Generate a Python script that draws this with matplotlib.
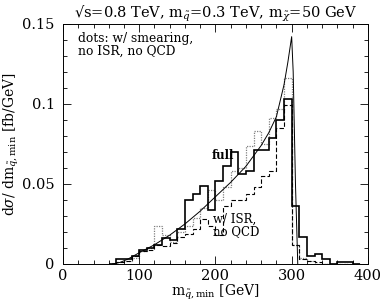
import numpy as np
import matplotlib
matplotlib.use("Agg")
import matplotlib.pyplot as plt
from matplotlib.ticker import MultipleLocator

plt.rcParams['font.family'] = 'DejaVu Serif'
plt.rcParams['mathtext.fontset'] = 'dejavuserif'

# bin edges of the histograms [GeV]
edges = np.arange(60, 400, 10)

# full simulation (solid)
full = [0.000, 0.003, 0.003, 0.005, 0.009, 0.010, 0.012, 0.016, 0.015, 0.022,
        0.040, 0.044, 0.049, 0.034, 0.052, 0.061, 0.070, 0.056, 0.058, 0.071,
        0.071, 0.079, 0.090, 0.103, 0.036, 0.017, 0.005, 0.006, 0.003, 0.000,
        0.001, 0.001, 0.000]

# w/ smearing, no ISR, no QCD (dotted)
smear = [0.000, 0.001, 0.002, 0.004, 0.008, 0.010, 0.024, 0.018, 0.014, 0.020,
         0.024, 0.029, 0.035, 0.046, 0.040, 0.048, 0.058, 0.060, 0.074, 0.083,
         0.075, 0.091, 0.097, 0.116, 0.012, 0.004, 0.002, 0.000, 0.000, 0.000,
         0.000, 0.000, 0.000]

# w/ ISR, no QCD (dashed)
isr = [0.000, 0.001, 0.002, 0.005, 0.008, 0.009, 0.012, 0.011, 0.013, 0.017,
       0.019, 0.022, 0.028, 0.024, 0.018, 0.036, 0.040, 0.040, 0.044, 0.048,
       0.055, 0.058, 0.085, 0.099, 0.012, 0.003, 0.002, 0.001, 0.000, 0.000,
       0.000, 0.000, 0.000]

# analytic curve
curve_m = [65, 75, 85, 100, 120, 140, 160, 180, 200, 220, 240, 260, 270, 280,
           290, 295, 300, 302, 305, 308]
curve_v = [0.0, 0.001, 0.003, 0.007, 0.012, 0.018, 0.025, 0.033, 0.042, 0.051,
           0.061, 0.074, 0.082, 0.092, 0.112, 0.126, 0.142, 0.120, 0.050, 0.0]

fig = plt.figure(figsize=(3.82, 3.02), dpi=100)
ax = fig.add_axes([0.165, 0.126, 0.798, 0.795])

ax.stairs(smear, edges, color='0.5', lw=0.9, ls=(0, (1, 1)))
ax.stairs(isr, edges, color='black', lw=0.8, ls=(0, (4, 2)))
ax.stairs(full, edges, color='black', lw=1.2)
ax.plot(curve_m, curve_v, color='black', lw=0.7)

ax.set_xlim(0, 400)
ax.set_ylim(0, 0.15)
ax.xaxis.set_major_locator(MultipleLocator(100))
ax.xaxis.set_minor_locator(MultipleLocator(20))
ax.yaxis.set_minor_locator(MultipleLocator(0.01))
ax.set_yticks([0, 0.05, 0.1, 0.15])
ax.set_yticklabels(['0', '0.05', '0.1', '0.15'])
ax.tick_params(which='both', direction='in', top=True, right=True, labelsize=10.5, width=0.6)
ax.tick_params(axis='y', pad=6)
ax.tick_params(which='major', length=6)
ax.tick_params(which='minor', length=3)
for s in ax.spines.values():
    s.set_linewidth(0.7)

ax.set_title('\u221as=0.8 TeV, m$_{\\tilde{q}}$=0.3 TeV, m$_{\\tilde{\\chi}}$=50 GeV',
             fontsize=10.5, pad=3)
ax.set_xlabel(r'm$_{\tilde{q},\mathrm{min}}$ [GeV]', fontsize=10)
ax.set_ylabel(r'd$\sigma$/ dm$_{\tilde{q},\mathrm{min}}$ [fb/GeV]', fontsize=10)
ax.xaxis.set_label_coords(0.5, -0.08)
ax.yaxis.set_label_coords(-0.137, 0.5)

ax.text(20, 0.145, 'dots: w/ smearing,\nno ISR, no QCD', fontsize=8.8,
        va='top', linespacing=1.0)
ax.text(195, 0.068, 'full', fontsize=8.5, fontweight='bold', va='center')
ax.text(197, 0.024, 'w/ ISR,\nno QCD', fontsize=8.5, va='center', linespacing=1.0)

fig.savefig('out.png', dpi=100)
